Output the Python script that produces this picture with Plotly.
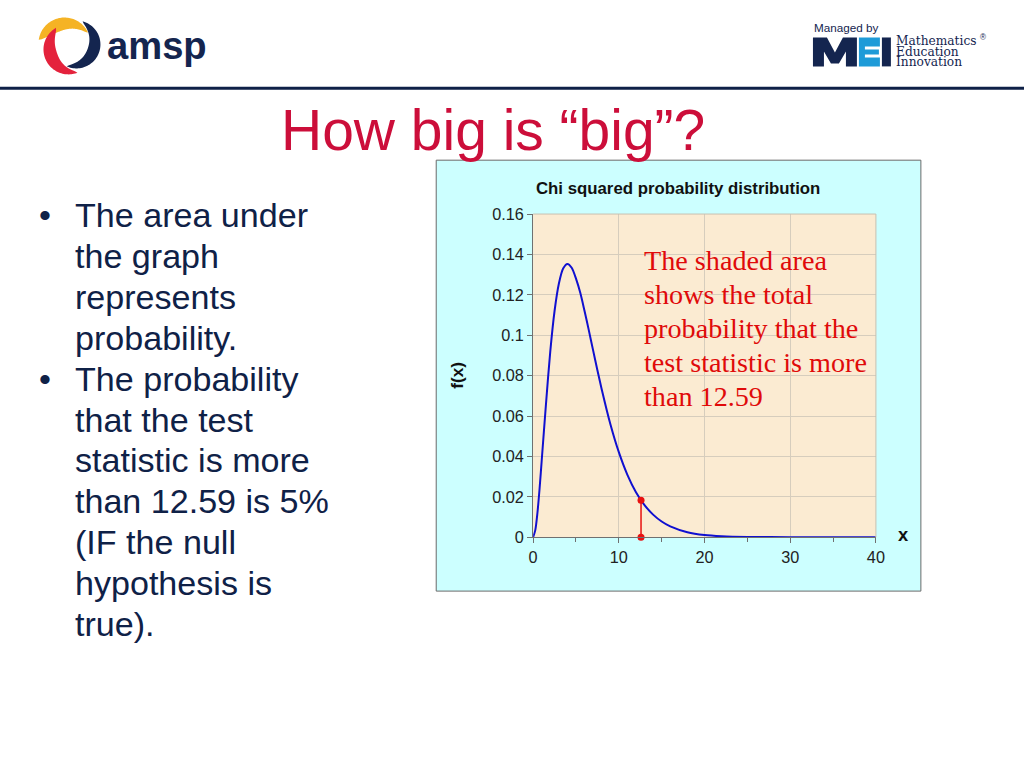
import numpy as np
import plotly.graph_objects as go

# ---- data ----
x_vals = [0, 0.25, 0.5, 0.75, 1, 1.5, 2, 2.5, 3, 3.5, 4, 4.5, 5, 5.5, 6, 6.5, 7, 7.5, 8, 9,
          10, 11, 12, 13, 14, 15, 16, 18, 20, 22, 25, 30, 35, 40]
f_vals = [0, 0.0035, 0.012, 0.024, 0.038, 0.066, 0.092, 0.112, 0.1255, 0.133, 0.1353, 0.1334,
          0.128, 0.121, 0.112, 0.1024, 0.0925, 0.0827, 0.0733, 0.0562, 0.0421, 0.0309, 0.0223,
          0.0159, 0.0112, 0.0078, 0.0054, 0.0025, 0.0011, 0.0005, 0.00015, 0.00002, 0, 0]
crit_x = 12.59
crit_f = 0.0183
x_ticks = [0, 10, 20, 30, 40]
y_ticks = [0, 0.02, 0.04, 0.06, 0.08, 0.1, 0.12, 0.14, 0.16]
y_tick_labels = ["0", "0.02", "0.04", "0.06", "0.08", "0.1", "0.12", "0.14", "0.16"]

W, H = 1024, 768
NAVY = "#0F2147"
CRIMSON = "#CC0E3A"

# compensation for the photographed page framing
SX, OX, SY, OY = 0.987, 4.5, 0.979, 7.45
FS = 1 / 0.983

def px(x, y):
    xc = (x - OX) / SX
    yc = (y - OY) / SY
    return xc / W, 1 - yc / H

def fs(s):
    return round(s * FS, 2)

fig = go.Figure()

fig.add_trace(go.Scatter(x=x_vals, y=f_vals, mode="lines",
                         line=dict(color="#1010D0", width=2, shape="spline", smoothing=0.8),
                         hoverinfo="skip", showlegend=False, cliponaxis=False))
fig.add_trace(go.Scatter(x=[crit_x, crit_x], y=[0, crit_f], mode="lines+markers",
                         line=dict(color="#E81010", width=1.5), marker=dict(color="#E81010", size=7),
                         showlegend=False, cliponaxis=False))

shapes = []
# chart frame (cyan) and plot area (beige)
x0, y0 = px(436, 591); x1, y1 = px(921, 159)
shapes.append(dict(type="rect", xref="paper", yref="paper", x0=x0, y0=y0, x1=x1, y1=y1,
                   fillcolor="#CCFFFF", line=dict(color="#6A6A6A", width=1), layer="below"))
PL, PB = px(533, 537)
PR, PT = px(876, 213)
shapes.append(dict(type="rect", xref="paper", yref="paper", x0=PL, y0=PB, x1=PR, y1=PT,
                   fillcolor="#FBEBD2", line=dict(width=0), layer="below"))
# header rule
hy = px(0, 87)[1]
shapes.append(dict(type="line", xref="paper", yref="paper", x0=-0.02, x1=1.02, y0=hy, y1=hy,
                   line=dict(color=NAVY, width=3)))
# right/top border of plot area in grid colour
shapes.append(dict(type="line", xref="paper", yref="paper", x0=PR, x1=PR, y0=PB, y1=PT,
                   line=dict(color="#C8C0B0", width=1)))
shapes.append(dict(type="line", xref="paper", yref="paper", x0=PL, x1=PR, y0=PT, y1=PT,
                   line=dict(color="#C8C0B0", width=1)))

def poly(pts, color):
    d = "M " + " L ".join(f"{px(x, y)[0]:.5f},{px(x, y)[1]:.5f}" for x, y in pts) + " Z"
    return dict(type="path", xref="paper", yref="paper", path=d, fillcolor=color, line=dict(width=0))

# amsp swirl logo (decoration)
def crescent(cx, cy, R, Wd, a0, a1, color, skew=1.0, n=60):
    t = np.linspace(0, 1, n)
    a = np.radians(a0 + (a1 - a0) * t)
    tt = t ** skew
    w = Wd * np.sin(np.pi * tt) ** 0.7
    outer = [(cx + R * np.cos(ai), cy - R * np.sin(ai)) for ai in a]
    inner = [(cx + (R - wi) * np.cos(ai), cy - (R - wi) * np.sin(ai)) for ai, wi in zip(a[::-1], w[::-1])]
    return poly(outer + inner, color)

shapes.append(crescent(64, 42, 26, 13, 172, 25, "#F5B325", skew=0.8))
shapes.append(crescent(68, 48, 25, 13, 120, 291, "#E4223C", skew=0.9))
shapes.append(crescent(76, 43, 24, 12, 75, -114, "#14254F", skew=1.0))

# MEI block letters (decoration)
MEI_NAVY = "#14254F"
MEI_BLUE = "#1E9BD8"
shapes.append(poly([(813, 65), (813, 36), (827, 36), (835, 51), (843, 36), (857, 36), (857, 65),
                    (846, 65), (846, 50), (839, 62), (831, 62), (824, 50), (824, 65)], MEI_NAVY))
shapes.append(poly([(859, 36), (880, 36), (880, 45), (865, 45), (865, 48), (879, 48), (879, 53),
                    (865, 53), (865, 56), (880, 56), (880, 65), (859, 65)], MEI_BLUE))
shapes.append(poly([(882, 36), (891, 36), (891, 65), (882, 65)], MEI_NAVY))

annotations = []
def txt(x, y, text, size, color, family="Liberation Sans, Arial, sans-serif", xanchor="left",
        yanchor="middle", bold=False, angle=0):
    X, Y = px(x, y)
    if bold:
        text = f"<b>{text}</b>"
    annotations.append(dict(x=X, y=Y, xref="paper", yref="paper", text=text, showarrow=False,
                            xanchor=xanchor, yanchor=yanchor, textangle=angle,
                            font=dict(size=fs(size), color=color, family=family)))

# logo texts
txt(105, 44, "amsp", 37.5, MEI_NAVY, bold=True)
txt(812, 26, "Managed by", 11.5, MEI_NAVY)
txt(894, 40, "Mathematics", 12, MEI_NAVY, family="DejaVu Serif, serif")
txt(978, 36, "®", 8, MEI_NAVY)
txt(894, 50.5, "Education", 12, MEI_NAVY, family="DejaVu Serif, serif")
txt(894, 61, "Innovation", 12, MEI_NAVY, family="DejaVu Serif, serif")

# slide title
txt(493, 129, "How big is “big”?", 56, CRIMSON, xanchor="center")

# bullets
bullet_lines = ["The area under", "the graph", "represents", "probability.",
                "The probability", "that the test", "statistic is more",
                "than 12.59 is 5%", "(IF the null", "hypothesis is", "true)."]
base = 225
for i, line in enumerate(bullet_lines):
    yb = base + 41 * i
    txt(73, yb - 11, line, 33.5, NAVY)
for i in (0, 4):
    txt(37, base + 41 * i - 11, "•", 33.5, NAVY)

# chart texts
txt(678, 187, "Chi squared probability distribution", 16.5, "#111111", xanchor="center", bold=True)
txt(456, 375, "f(x)", 17, "#111111", xanchor="center", bold=True, angle=-90)
txt(904, 534, "x", 18, "#111111", xanchor="center", bold=True)

red_lines = ["The shaded area", "shows the total", "probability that the",
             "test statistic is more", "than 12.59"]
for i, line in enumerate(red_lines):
    txt(642, 268 + 34.2 * i - 8.5, line, 27.7, "#E00A0A", family="Liberation Serif, Times New Roman, serif")

tick_font = dict(size=fs(16), color="#222222", family="Liberation Sans, Arial, sans-serif")
fig.update_layout(
    autosize=True, margin=dict(l=0, r=0, t=0, b=0, pad=0),
    paper_bgcolor="white", plot_bgcolor="rgba(0,0,0,0)",
    shapes=shapes, annotations=annotations, showlegend=False,
    xaxis=dict(domain=[PL, PR], range=[0, 40], tickvals=x_ticks,
               showgrid=True, gridcolor="#D6CDBD", gridwidth=1,
               showline=True, linecolor="#707070", linewidth=1, mirror=False,
               ticks="outside", ticklen=5, tickcolor="#707070",
               minor=dict(dtick=5, ticks="outside", ticklen=4, tickcolor="#707070", showgrid=False),
               tickfont=tick_font, zeroline=False, fixedrange=True),
    yaxis=dict(domain=[PB, PT], range=[0, 0.16], tickvals=y_ticks, ticktext=y_tick_labels,
               showgrid=True, gridcolor="#D6CDBD", gridwidth=1,
               showline=True, linecolor="#707070", linewidth=1,
               ticks="outside", ticklen=5, tickcolor="#707070",
               tickfont=tick_font, zeroline=False, fixedrange=True),
)

fig.write_html("out.html", config={"displayModeBar": False, "responsive": True},
               default_width="100vw", default_height="100vh",
               post_script="document.documentElement.style.margin='0';document.body.style.margin='0';"
                           "document.body.style.padding='0';document.documentElement.style.overflow='hidden';"
                           "document.body.style.overflow='hidden';"
                           "var gd=document.getElementById('{plot_id}');Plotly.Plots.resize(gd);")
